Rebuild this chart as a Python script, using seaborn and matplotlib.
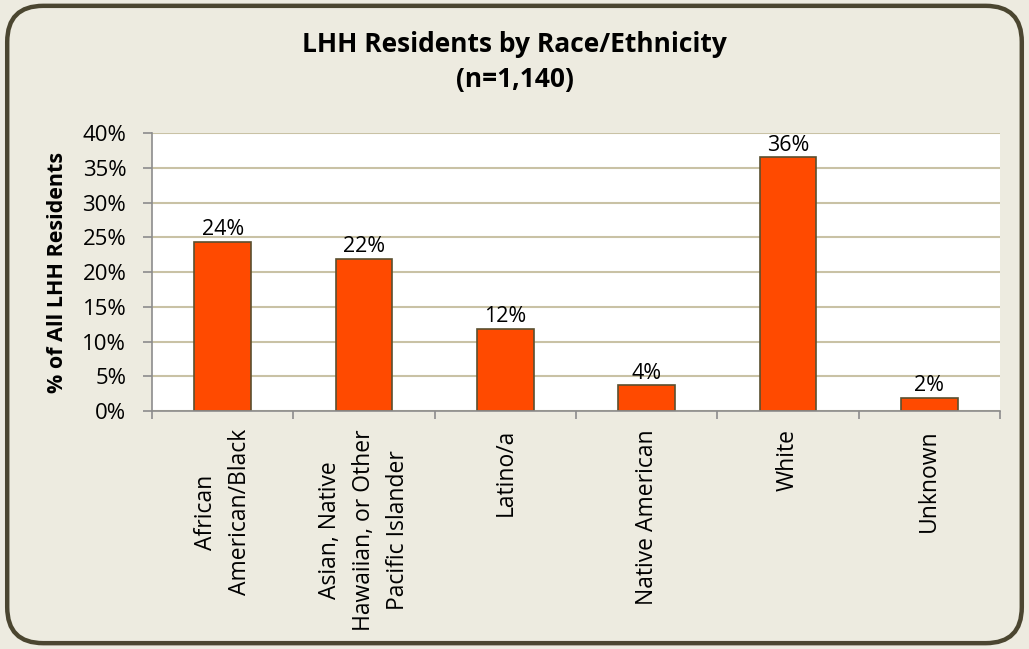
import numpy as np
import seaborn as sns
import matplotlib.pyplot as plt
from matplotlib.patches import FancyBboxPatch
from matplotlib.ticker import PercentFormatter, FixedLocator

categories = [
    "African\nAmerican/Black",
    "Asian, Native\nHawaiian, or Other\nPacific Islander",
    "Latino/a",
    "Native American",
    "White",
    "Unknown",
]
shares = [24.3, 21.9, 11.8, 3.7, 36.5, 1.9]
labels = ["24%", "22%", "12%", "4%", "36%", "2%"]

sns.set_style("white")
plt.rcParams["font.family"] = ["Open Sans", "DejaVu Sans"]
plt.rcParams["text.color"] = "black"
plt.rcParams["xtick.color"] = "black"
plt.rcParams["ytick.color"] = "black"
plt.rcParams["axes.labelcolor"] = "black"

BG = "#EDEBE0"
fig = plt.figure(figsize=(10.29, 6.49), dpi=100, facecolor=BG)
border = FancyBboxPatch((0.007, 0.009), 0.986, 0.982, boxstyle="round,pad=0,rounding_size=0.035",
                        transform=fig.transFigure, facecolor=BG, edgecolor="#4B4630", linewidth=3.2,
                        mutation_aspect=1029 / 649, zorder=-5)
fig.add_artist(border)

ax = fig.add_axes([0.1477, 0.3667, 0.8241, 0.4283])
ax.set_facecolor("white")

sns.barplot(x=categories, y=shares, ax=ax, color="#FF4A00", width=0.4,
            edgecolor="#5A5030", linewidth=1.2, saturation=1)

for i, (v, t) in enumerate(zip(shares, labels)):
    ax.text(i, v + 0.25, t, ha="center", va="bottom", fontsize=15.5, color="black")

ax.set_ylim(0, 40)
ax.set_xlim(-0.5, len(categories) - 0.5)
ax.set_yticks(np.arange(0, 41, 5))
ax.yaxis.set_major_formatter(PercentFormatter(decimals=0))
ax.grid(axis="y", color="#C9C2A5", linewidth=1.5)
ax.set_axisbelow(True)

for s in ["top", "right"]:
    ax.spines[s].set_visible(False)
for s in ["left", "bottom"]:
    ax.spines[s].set_color("#8C8C8C")
    ax.spines[s].set_linewidth(1.2)

ax.xaxis.set_minor_locator(FixedLocator(np.arange(-0.5, len(categories), 1)))
ax.tick_params(axis="x", which="major", length=0, labelsize=16.5, pad=13, rotation=90)
ax.tick_params(axis="x", which="minor", length=6, color="#8C8C8C", width=1.2, bottom=True)
ax.tick_params(axis="y", length=6.5, color="#8C8C8C", width=1.2, labelsize=16, left=True, pad=12)
for lab in ax.get_xticklabels():
    lab.set_ha("center")
    lab.set_va("top")
    lab.set_multialignment("center")
    lab.set_linespacing(1.55)

ax.set_ylabel("% of All LHH Residents", fontsize=15.5, fontweight="bold")
ax.yaxis.set_label_coords(-0.112, 0.5)
ax.yaxis.label.set_va("center")

fig.text(0.5, 0.931, "LHH Residents by Race/Ethnicity", ha="center", va="center",
         fontsize=19, fontweight="bold")
fig.text(0.5, 0.877, "(n=1,140)", ha="center", va="center", fontsize=19, fontweight="bold")

fig.savefig("out.png", dpi=100, facecolor=BG)
